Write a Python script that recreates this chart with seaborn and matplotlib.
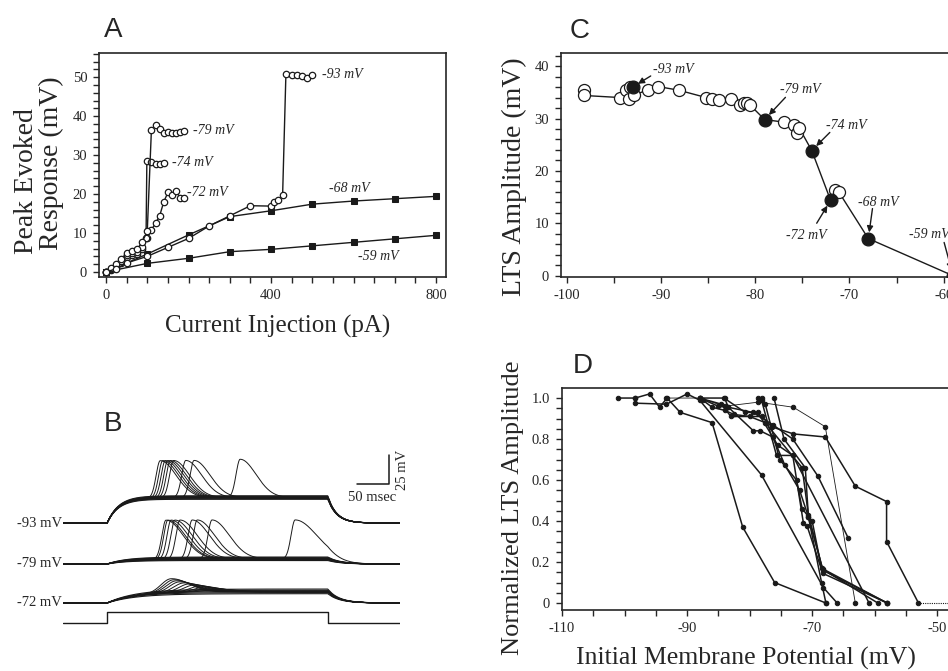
import numpy as np
import matplotlib
matplotlib.use("Agg")
import matplotlib.pyplot as plt
from matplotlib.ticker import MultipleLocator, FixedLocator, FixedFormatter
import seaborn as sns

sns.set_theme(style="ticks")
plt.rcParams["font.family"] = ["Liberation Serif", "DejaVu Serif"]
plt.rcParams["axes.linewidth"] = 1.2
plt.rcParams["axes.unicode_minus"] = False

W, H = 948, 671
fig = plt.figure(figsize=(W / 100, H / 100), dpi=100)


def rect(l, t, r, b):
    return [l / W, 1 - b / H, (r - l) / W, (b - t) / H]


SANS = ["Liberation Sans", "DejaVu Sans"]
SERIF = ["Liberation Serif", "DejaVu Serif"]

# ---------------- Panel A: peak evoked response vs injected current -------------
a93_x = [0, 25, 50, 100, 150, 200, 250, 300, 350, 400, 407, 417, 428, 436, 450, 462, 474, 487, 499]
a93_y = [0, 0.8, 2.3, 4.0, 6.3, 8.6, 11.8, 14.4, 17.0, 16.9, 18.0, 18.4, 19.7, 50.8, 50.5, 50.5, 50.3, 49.9, 50.6]

a79_x = [0, 12.5, 25, 37.5, 50, 62.5, 75, 87.5, 100, 110, 120, 130, 140, 150, 160, 170, 180, 190]
a79_y = [0, 0.9, 2.0, 3.3, 4.9, 5.3, 5.8, 7.6, 10.5, 36.4, 37.6, 36.8, 35.7, 35.8, 35.6, 35.6, 36.0, 36.3]

a74_x = [0, 12.5, 25, 37.5, 50, 62.5, 75, 87.5, 97, 99, 110, 120, 130, 140]
a74_y = [0, 0.8, 1.6, 2.8, 4.4, 4.8, 5.1, 6.5, 8.7, 28.6, 28.2, 27.6, 27.8, 28.0]

a72_x = [0, 12.5, 25, 37.5, 50, 62.5, 75, 87.5, 100, 110, 120, 130, 140, 150, 160, 170, 180, 190]
a72_y = [0, 0.6, 1.3, 2.2, 3.8, 4.3, 4.6, 6.0, 8.7, 10.8, 12.5, 14.4, 18.0, 20.4, 19.7, 20.8, 18.9, 18.9]

a68_x = [0, 100, 200, 300, 400, 500, 600, 700, 800]
a68_y = [0, 4.6, 9.5, 14.2, 15.7, 17.4, 18.2, 18.8, 19.4]

a59_x = [0, 100, 200, 300, 400, 500, 600, 700, 800]
a59_y = [0, 2.2, 3.5, 5.2, 5.8, 6.7, 7.6, 8.5, 9.4]

axA = fig.add_axes(rect(99, 53, 446, 277))
sq = dict(marker="s", markersize=4.5, markerfacecolor="k", markeredgecolor="k")
oc = dict(marker="o", markersize=4.6, markerfacecolor="white", markeredgecolor="k", markeredgewidth=0.9)
for xs, ys, st in [(a59_x, a59_y, sq), (a68_x, a68_y, sq), (a72_x, a72_y, oc),
                   (a74_x, a74_y, oc), (a79_x, a79_y, oc), (a93_x, a93_y, oc)]:
    sns.lineplot(x=xs, y=ys, ax=axA, sort=False, estimator=None, color="k", lw=1.0, **st)

axA.set_xlim(-17, 824)
axA.set_ylim(-1.3, 56.2)
axA.set_xticks([0, 400, 800])
axA.xaxis.set_minor_locator(MultipleLocator(50))
axA.set_yticks([0, 10, 20, 30, 40, 50])
axA.yaxis.set_minor_locator(MultipleLocator(2))

a_lab = [("-93 mV", 524, a93_y[-1]), ("-79 mV", 211, a79_y[-1]), ("-74 mV", 160, a74_y[-1]),
         ("-72 mV", 196, 20.3), ("-68 mV", 540, 21.5), ("-59 mV", 610, 4.0)]
for s, x, y in a_lab:
    axA.text(x, y, s, style="italic", fontsize=10, va="center", ha="left", family=SERIF)

fig.text(278 / W, 1 - 326 / H, "Current Injection (pA)", fontsize=18, ha="center", va="center")
fig.text(27 / W, 1 - 181 / H, "Peak Evoked", fontsize=20, rotation=90, ha="center", va="center")
fig.text(51 / W, 1 - 163 / H, "Response (mV)", fontsize=20, rotation=90, ha="center", va="center")

# ---------------- Panel C: LTS amplitude vs initial potential -------------------
c_v = [-98.2, -98.2, -94.3, -93.7, -93.4, -93.3, -92.9, -91.4, -90.3, -88.1, -85.2, -84.6, -83.8,
       -82.6, -81.6, -81.2, -80.9, -80.5, -76.9, -75.9, -75.6, -75.3, -71.5, -71.1]
c_amp = [35.5, 34.4, 34.0, 35.4, 33.8, 36.1, 34.4, 35.5, 36.1, 35.4, 34.0, 33.7, 33.6,
         33.7, 32.5, 33.0, 33.0, 32.5, 29.3, 28.7, 27.2, 28.1, 16.3, 15.9]
lts_v = [-93, -79, -74, -72, -68, -59]
lts_amp = [36.0, 29.8, 23.9, 14.4, 7.1, 0.0]

axC = fig.add_axes(rect(561, 53, 972, 277))
all_v = np.array(c_v + lts_v)
all_a = np.array(c_amp + lts_amp)
order = np.argsort(all_v)
sns.lineplot(x=all_v[order], y=all_a[order], ax=axC, sort=False, estimator=None, color="k", lw=1.0)
sns.scatterplot(x=c_v, y=c_amp, ax=axC, s=75, color="white", edgecolor="k", linewidth=0.9, zorder=3)
sns.scatterplot(x=lts_v, y=lts_amp, ax=axC, s=85, color="k", edgecolor="k", linewidth=0.9, zorder=4)

axC.set_xlim(-100.6, -57)
axC.set_ylim(-0.23, 42.5)
axC.set_xticks([-100, -90, -80, -70, -60])
axC.xaxis.set_minor_locator(MultipleLocator(5))
axC.set_yticks([0, 10, 20, 30, 40])
axC.yaxis.set_minor_locator(MultipleLocator(2))

# label offsets (points): arrow tail, text centre
c_off = [((13, 8), (29.5, 13)), ((15, 16), (26, 21.6)), ((13, 13), (25, 18)),
         ((-10, -16.5), (-17.5, -25)), ((3, 21.6), (7, 26)), ((-6.5, 24), (-17, 30))]
for v, a, (tail, txt) in zip(lts_v, lts_amp, c_off):
    axC.annotate("", xy=(v, a), xytext=tail, textcoords="offset points",
                 arrowprops=dict(arrowstyle="-|>", color="k", lw=1.0, mutation_scale=9,
                                 shrinkA=0, shrinkB=4.5), annotation_clip=False)
    axC.annotate(f"{v} mV", xy=(v, a), xytext=txt, textcoords="offset points",
                 style="italic", fontsize=10, ha="center", va="center", annotation_clip=False)

fig.text(514 / W, 1 - 177 / H, "LTS Amplitude (mV)", fontsize=20, rotation=90, ha="center", va="center")

# ---------------- Panel D: normalised LTS amplitude, all cells ------------------
d_curves = [
    ([-101, -98.3, -96, -94.4, -93.2, -91.1, -86.0, -81.1, -76.0, -67.8],
     [1.0, 1.0, 1.02, 0.955, 1.0, 0.93, 0.88, 0.37, 0.10, 0.0]),
    ([-98.3, -98.3, -93.3, -90, -88, -78.1, -68.2, -66.0],
     [1.0, 0.975, 0.97, 1.02, 0.99, 0.625, 0.075, 0.0]),
    ([-93.3, -88, -84, -78.6, -73.0, -67.9, -63.1],
     [1.0, 1.0, 0.96, 0.98, 0.955, 0.86, 0.0]),
    ([-88, -84.5, -83, -78, -76.5, -73.0, -67.9, -63.1, -58.1, -58.1, -53.0],
     [1.0, 0.97, 0.91, 0.91, 0.86, 0.825, 0.81, 0.57, 0.495, 0.30, 0.0]),
    ([-88, -85, -83.4, -79.5, -76.3, -73.1, -69.1, -64.2],
     [1.0, 0.96, 0.955, 0.93, 0.87, 0.80, 0.62, 0.315]),
    ([-88, -84.1, -80.7, -78.7, -75.5, -73.1, -60.9],
     [1.0, 1.0, 0.93, 0.93, 0.77, 0.72, 0.0]),
    ([-84, -83.4, -79.4, -78.3, -76.3, -74.4, -72, -70.6, -68.3, -59.5],
     [1.0, 0.955, 0.84, 0.84, 0.81, 0.675, 0.55, 0.42, 0.164, 0.0]),
    ([-78.6, -78.1, -75.7, -73.1, -71.4, -70.8, -68.3, -58.0],
     [1.0, 0.99, 0.72, 0.72, 0.39, 0.375, 0.145, 0.0]),
    ([-78.1, -77.5, -75.2, -72.5, -71.6, -70.0, -68.5, -58.0],
     [1.0, 0.97, 0.70, 0.60, 0.46, 0.40, 0.17, 0.0]),
    ([-76.1, -74.5, -71.1, -70.6, -68.5, -67.8],
     [1.0, 0.80, 0.66, 0.42, 0.10, 0.0]),
    ([-87.5, -86, -84, -82.5, -80, -77.5, -71.6, -70.6, -68.3, -58.0],
     [0.99, 0.955, 0.94, 0.92, 0.91, 0.88, 0.66, 0.43, 0.16, 0.0]),
]
d_tail_x = [-53.0, -46]
d_tail_y = [0.0, 0.0]

axD = fig.add_axes(rect(562, 388, 956, 610))
for i, (xs, ys) in enumerate(d_curves):
    lw = 0.6 if i == 2 else 1.1
    sns.lineplot(x=xs, y=ys, ax=axD, sort=False, estimator=None, color="k", lw=lw,
                 marker="o", markersize=3.2, markerfacecolor="k", markeredgecolor="k")
axD.plot(d_tail_x, d_tail_y, color="k", lw=0.8, ls=(0, (1, 1)))

axD.set_xlim(-110, -47)
axD.set_ylim(-0.034, 1.049)
axD.set_xticks([-110, -90, -70, -50])
axD.xaxis.set_minor_locator(MultipleLocator(5))
axD.yaxis.set_major_locator(FixedLocator([0, 0.2, 0.4, 0.6, 0.8, 1.0]))
axD.yaxis.set_major_formatter(FixedFormatter(["0", "0.2", "0.4", "0.6", "0.8", "1.0"]))
axD.yaxis.set_minor_locator(MultipleLocator(0.05))

fig.text(513 / W, 1 - 508 / H, "Normalized LTS Amplitude", fontsize=19, rotation=90, ha="center", va="center")
fig.text(746 / W, 1 - 658 / H, "Initial Membrane Potential (mV)", fontsize=18.5, ha="center", va="center")

for ax in (axA, axC, axD):
    ax.tick_params(which="both", direction="out", width=1.0, length=4.5, labelsize=10.5, pad=4,
                   top=False, right=False)
    for s in ax.spines.values():
        s.set_linewidth(1.2)
        s.set_visible(True)
    ax.set_xlabel("")
    ax.set_ylabel("")
    for lab in ax.get_xticklabels() + ax.get_yticklabels():
        lab.set_family(SERIF)

# ---------------- Panel B: voltage traces at three holding potentials -----------
t = np.linspace(-69, 458, 1600)
STEP_END = 345.0

b_rows = [-93, -79, -72]
b_base = [92.2, 56.9, 23.3]
# per-row: plateau depolarisation of non-firing sweeps (mV)
b_sub = [[20.5, 21.0, 21.5, 22.0, 22.5, 23.0, 23.5],
         [3.0, 3.5, 4.0, 4.5, 5.0, 5.5, 6.0],
         [8.0, 9.0, 10.0, 11.0, 12.0]]
# per-row: LTS peak latency (ms after step onset) and peak height above rest (mV)
b_lat = [[83, 87, 91, 95, 99, 104, 123, 136, 208],
         [92, 95, 100, 106, 114, 133, 141, 164, 294],
         [100, 104, 108, 113, 120, 128, 136, 145, 152, 160, 170]]
b_peak = [[54, 54, 54, 54, 54, 54, 54, 54, 55],
          [38, 38, 38, 38, 38, 38, 38, 38, 38],
          [22, 21, 20, 19, 18, 17, 16, 15, 14, 13, 12]]
b_tau = [(18, 14), (30, 20), (45, 18)]
b_shape = [(9, 35), (9, 38), (22, 38)]

stim_t = [-69, 0, 0, STEP_END, STEP_END, 458]
stim_v = [6.0, 6.0, 15.5, 15.5, 6.0, 6.0]


def step_response(amp, tau_on, tau_off):
    v = np.zeros_like(t)
    on = (t >= 0) & (t < STEP_END)
    v[on] = amp * (1 - np.exp(-t[on] / tau_on))
    v_end = amp * (1 - np.exp(-STEP_END / tau_on))
    off = t >= STEP_END
    v[off] = v_end * np.exp(-(t[off] - STEP_END) / tau_off)
    return v


def spike(amp, t_pk, rise, fall):
    dt = t - t_pk
    return amp * np.where(dt < 0, np.exp(-(dt / rise) ** 2), np.exp(-(dt / fall) ** 2))


axB = fig.add_axes(rect(63, 440, 400, 630))
for r in range(3):
    base = b_base[r]
    tau_on, tau_off = b_tau[r]
    rise, fall = b_shape[r]
    plat = float(np.mean(b_sub[r]))
    for amp in b_sub[r]:
        sns.lineplot(x=t, y=base + step_response(amp, tau_on, tau_off), ax=axB,
                     color="k", lw=0.8, estimator=None, sort=False)
    for lat, pk in zip(b_lat[r], b_peak[r]):
        f = fall * (1.25 if lat > 250 else 1.0)
        v = base + step_response(plat, tau_on, tau_off) + spike(pk - plat, lat, rise, f)
        sns.lineplot(x=t, y=v, ax=axB, color="k", lw=0.7, estimator=None, sort=False)
    axB.text(-71, base, f"{b_rows[r]} mV", ha="right", va="center", fontsize=10.5, clip_on=False)

axB.plot(stim_t, stim_v, color="k", lw=1.0)
# scale bar: 50 ms, 25 mV
axB.plot([390.6, 440.6, 440.6], [125.9, 125.9, 150.9], color="k", lw=1.1, clip_on=False)
axB.text(415, 114, "50 msec", ha="center", va="center", fontsize=10.5)
axB.text(462, 138, "25 mV", ha="center", va="center", fontsize=10.5, rotation=90, clip_on=False)
axB.set_xlim(-69, 458)
axB.set_ylim(0, 163.8)
axB.axis("off")

# panel letters
for s, x, y in [("A", 113, 30), ("B", 113, 424), ("C", 580, 31), ("D", 583, 366)]:
    fig.text(x / W, 1 - y / H, s, fontsize=20, ha="center", va="center", family=SANS)

fig.savefig("out.png", dpi=100)
